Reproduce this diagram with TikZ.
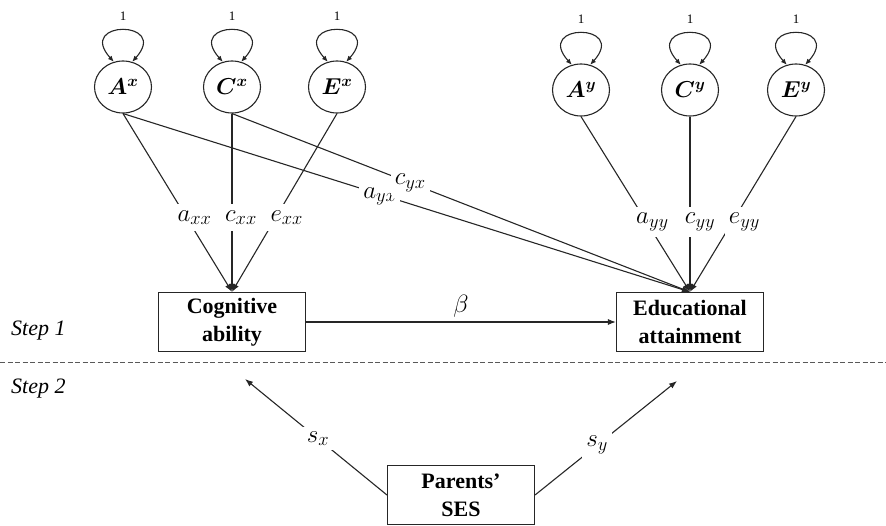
\documentclass[tikz,border=0pt]{standalone}
\usepackage{fix-cm}
\usepackage{amsmath}
\usepackage{fontspec}
\setmainfont{Liberation Serif}
\DeclareMathSizes{25}{25}{18.5}{14}
\usetikzlibrary{arrows.meta,shapes.geometric}
\begin{document}
\begin{tikzpicture}[x=1pt,y=-1pt,
  line/.style={draw=black!85, line width=1.1pt},
  arr/.style={line, -{Latex[length=8pt,width=6pt]}},
  looparr/.style={line, {Latex[length=6pt,width=5pt]}-{Latex[length=6pt,width=5pt]}},
  latent/.style={ellipse, draw=black!85, line width=1.1pt, minimum width=57pt, minimum height=52pt, inner sep=0pt, font=\fontsize{23}{26}\selectfont},
  obs/.style={rectangle, draw=black!85, line width=1.1pt, minimum width=147pt, minimum height=59pt, align=center, inner sep=0pt, font=\bfseries\fontsize{22}{28}\selectfont},
  coef/.style={fill=white, inner xsep=4pt, inner ysep=6pt, font=\fontsize{25}{28}\selectfont},
  one/.style={above=9pt, inner sep=0pt, font=\fontsize{13}{15}\selectfont},
  steplbl/.style={anchor=west, inner sep=0pt, font=\itshape\fontsize{22}{26}\selectfont},
  divider/.style={draw=black!65, line width=1pt, dash pattern=on 5pt off 2.5pt}
]
\useasboundingbox (0,0) rectangle (886,526);

% latent variables
\node[latent] (Ax) at (123,87) {$\boldsymbol{A^{x}}$};
\node[latent] (Cx) at (232,87) {$\boldsymbol{C^{x}}$};
\node[latent] (Ex) at (337,87) {$\boldsymbol{E^{x}}$};
\node[latent] (Ay) at (581,90) {$\boldsymbol{A^{y}}$};
\node[latent] (Cy) at (690,90) {$\boldsymbol{C^{y}}$};
\node[latent] (Ey) at (796,90) {$\boldsymbol{E^{y}}$};

% observed variables
\node[obs] (cog) at (232,322) {Cognitive\\ability};
\node[obs] (edu) at (690,322) {Educational\\attainment};
\node[obs] (ses) at (461,495) {Parents’\\SES};

% self loops
\foreach \n in {Ax,Cx,Ex,Ay,Cy,Ey}
  \draw[looparr] (\n.110) .. controls +(-38,-42) and +(38,-42) .. node[one, pos=0.5] {1} (\n.70);

% paths to cognitive ability
\draw[arr] (Ax.south) -- node[coef, pos=0.583, xshift=8pt] {$a_{xx}$} (cog.north);
\draw[arr] (Cx.south) -- node[coef, pos=0.583, xshift=9pt] {$c_{xx}$} (cog.north);
\draw[arr] (Ex.south) -- node[coef, pos=0.583, xshift=11pt] {$e_{xx}$} (cog.north);

% cross paths
\draw[arr] (Ax.south) -- node[coef, pos=0.453, inner ysep=3pt, yshift=-2pt] {$a_{yx}$} (edu.north);
\draw[arr] (Cx.south) -- node[coef, pos=0.389, inner ysep=3pt] {$c_{yx}$} (edu.north);

% paths to educational attainment
\draw[arr] (Ay.south) -- node[coef, pos=0.6, xshift=6pt] {$a_{yy}$} (edu.north);
\draw[arr] (Cy.south) -- node[coef, pos=0.6, xshift=10pt] {$c_{yy}$} (edu.north);
\draw[arr] (Ey.south) -- node[coef, pos=0.6, xshift=12pt] {$e_{yy}$} (edu.north);

% beta
\draw[arr] (cog) -- node[above=1pt, font=\fontsize{25}{28}\selectfont] {$\beta$} (edu);

% divider and step labels
\coordinate (dl) at (0,363);
\coordinate (dr) at (886,363);
\draw[divider] (dl) -- (dr);
\node[steplbl] (s1) at (11,331) {Step 1};
\node[steplbl] (s2) at (11,389) {Step 2};

% step 2 paths
\coordinate (sxend) at (245,379);
\coordinate (syend) at (677,381);
\draw[arr] (ses.west) -- node[coef, pos=0.486, inner sep=4pt] {$s_{x}$} (sxend);
\draw[arr] (ses.east) -- node[coef, pos=0.437, inner sep=4pt] {$s_{y}$} (syend);
\end{tikzpicture}
\end{document}
